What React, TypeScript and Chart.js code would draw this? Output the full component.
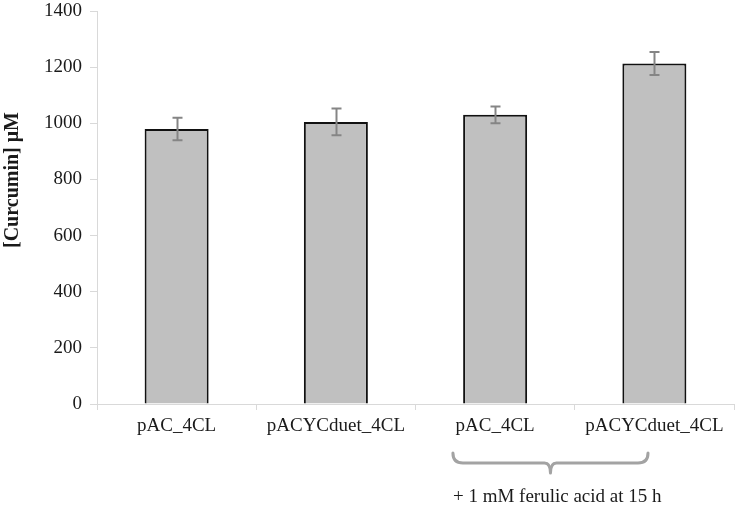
import React, { useEffect, useRef } from "react";
import { Chart, registerables } from "chart.js";

Chart.register(...registerables);

const categories = ["pAC_4CL", "pACYCduet_4CL", "pAC_4CL", "pACYCduet_4CL"];
const curcumin = [980, 1005, 1030, 1213];
const errors = [40, 48, 30, 41];
const yTicks = [0, 200, 400, 600, 800, 1000, 1200, 1400];
const yTitle = "[Curcumin] μM";
const braceNote = "+ 1 mM ferulic acid at 15 h";
const braceFrom = 2;
const braceTo = 3;

const FONT = '"Liberation Serif", "Times New Roman", serif';

const extrasPlugin = {
  id: "extras",
  afterDatasetsDraw(chart: any) {
    const ctx = chart.ctx;
    const x = chart.scales.x;
    const y = chart.scales.y;
    ctx.save();
    ctx.strokeStyle = "#858585";
    ctx.lineWidth = 2;
    curcumin.forEach((v, i) => {
      const cx = Math.round(x.getPixelForValue(i)) + 0.5;
      const top = y.getPixelForValue(v + errors[i]);
      const bot = y.getPixelForValue(v - errors[i]);
      ctx.beginPath();
      ctx.moveTo(cx, top);
      ctx.lineTo(cx, bot);
      ctx.moveTo(cx - 5, top);
      ctx.lineTo(cx + 5, top);
      ctx.moveTo(cx - 5, bot);
      ctx.lineTo(cx + 5, bot);
      ctx.stroke();
    });
    ctx.restore();
  },
  afterDraw(chart: any) {
    const ctx = chart.ctx;
    const x = chart.scales.x;
    const area = chart.chartArea;
    const cw = (area.right - area.left) / categories.length;
    ctx.save();
    ctx.translate(13, 180);
    ctx.rotate(-Math.PI / 2);
    ctx.font = `bold 20px ${FONT}`;
    ctx.fillStyle = "#1a1a1a";
    ctx.textAlign = "center";
    ctx.textBaseline = "middle";
    ctx.fillText(yTitle, 0, 0);
    ctx.restore();
    const l = x.getPixelForValue(braceFrom) - 0.265 * cw;
    const r = x.getPixelForValue(braceTo) - 0.04 * cw;
    const mid = (l + r) / 2;
    const yt = area.bottom + 49;
    const yh = yt + 10;
    const yp = yh + 10;
    ctx.save();
    ctx.strokeStyle = "#a3a3a3";
    ctx.lineWidth = 3;
    ctx.lineCap = "round";
    ctx.lineJoin = "round";
    ctx.beginPath();
    ctx.moveTo(l, yt);
    ctx.quadraticCurveTo(l, yh, l + 10, yh);
    ctx.lineTo(mid - 6, yh);
    ctx.quadraticCurveTo(mid, yh, mid, yp);
    ctx.quadraticCurveTo(mid, yh, mid + 6, yh);
    ctx.lineTo(r - 10, yh);
    ctx.quadraticCurveTo(r, yh, r, yt);
    ctx.stroke();
    ctx.restore();
    ctx.save();
    ctx.font = `19px ${FONT}`;
    ctx.fillStyle = "#1a1a1a";
    ctx.textAlign = "left";
    ctx.textBaseline = "middle";
    ctx.fillText(braceNote, l, area.bottom + 93);
    ctx.restore();
  },
};

export default function App() {
  const ref = useRef<HTMLCanvasElement>(null);
  useEffect(() => {
    if (!ref.current) return;
    const chart = new Chart(ref.current, {
      type: "bar",
      data: {
        labels: categories,
        datasets: [
          {
            data: curcumin,
            backgroundColor: "#c0c0c0",
            borderColor: "#111111",
            borderWidth: 2,
            categoryPercentage: 1,
            barPercentage: 0.402,
          },
        ],
      },
      options: {
        animation: false,
        responsive: false,
        maintainAspectRatio: false,
        layout: { padding: { top: 11, right: 5, left: 0, bottom: 0 } },
        plugins: {
          legend: { display: false },
          tooltip: { enabled: false },
        },
        scales: {
          x: {
            grid: {
              offset: true,
              drawOnChartArea: false,
              drawTicks: true,
              tickLength: 6,
              color: "#d9d9d9",
            },
            border: { display: true, color: "#d9d9d9", width: 1 },
            ticks: {
              padding: 5,
              color: "#1a1a1a",
              font: { family: FONT, size: 19, lineHeight: 1.2 },
              maxRotation: 0,
              autoSkip: false,
            },
            afterFit: (s: any) => {
              s.height = 103;
              s.paddingLeft = 0;
              s.paddingRight = 0;
            },
          },
          y: {
            min: 0,
            max: 1400,
            afterBuildTicks: (s: any) => {
              s.ticks = yTicks.map((v) => ({ value: v }));
            },
            grid: {
              drawOnChartArea: false,
              drawTicks: true,
              tickLength: 7,
              color: "#d9d9d9",
            },
            border: { display: true, color: "#d9d9d9", width: 1 },
            ticks: {
              padding: 8,
              color: "#1a1a1a",
              font: { family: FONT, size: 19, lineHeight: 1 },
              callback: (v: any) => String(v),
            },
            afterFit: (s: any) => {
              s.width = 97;
              s.paddingTop = 0;
              s.paddingBottom = 0;
            },
          },
        },
      },
      plugins: [extrasPlugin],
    });
    return () => chart.destroy();
  }, []);
  return (
    <div style={{ position: "fixed", left: 0, top: 0, width: 739, height: 507, background: "#fff" }}>
      <canvas ref={ref} width={739} height={507} style={{ width: 739, height: 507 }} />
    </div>
  );
}
